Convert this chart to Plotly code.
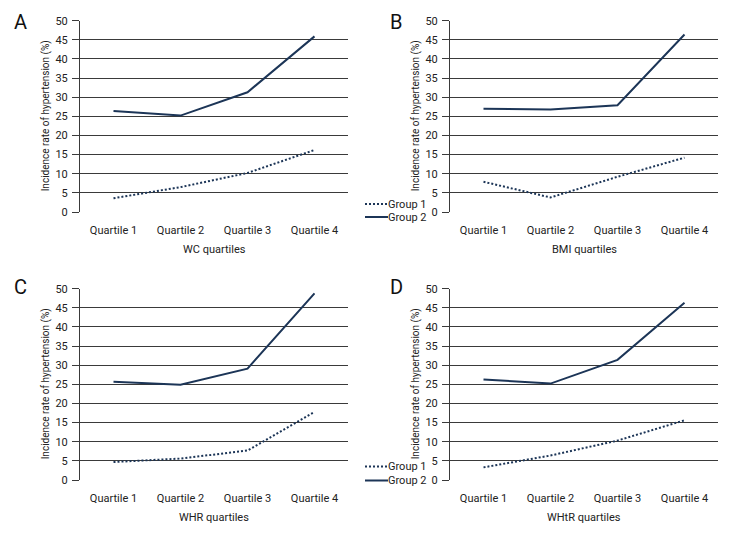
import plotly.graph_objects as go

categories = ["Quartile 1", "Quartile 2", "Quartile 3", "Quartile 4"]
panel_letters = ["A", "B", "C", "D"]
x_titles = ["WC quartiles", "BMI quartiles", "WHR quartiles", "WHtR quartiles"]
y_title = "Incidence rate of hypertension (%)"

wc_group1 = [3.6, 6.5, 10.2, 16.2]
wc_group2 = [26.4, 25.2, 31.3, 45.9]
bmi_group1 = [7.9, 3.8, 9.2, 14.2]
bmi_group2 = [27.0, 26.8, 27.9, 46.4]
whr_group1 = [4.7, 5.6, 7.7, 17.8]
whr_group2 = [25.7, 24.9, 29.1, 48.8]
whtr_group1 = [3.3, 6.4, 10.3, 15.6]
whtr_group2 = [26.3, 25.2, 31.4, 46.3]

group1_series = [wc_group1, bmi_group1, whr_group1, whtr_group1]
group2_series = [wc_group2, bmi_group2, whr_group2, whtr_group2]

FONT = "Roboto, Liberation Sans, sans-serif"
FS = 11
LINE_COLOR = "#1c3557"
GRID_COLOR = "#3a3a3a"
TEXT_COLOR = "#222"
# page body has an 8px margin; keep the figure inside the 756x540 window
OFF = 8
W, H = 756 - 2 * OFF, 540 - 2 * OFF


def px(x):
    return (x - OFF) / W


def py(y):
    return 1 - (y - OFF) / H


x_domains = [[px(80), px(348)], [px(450), px(718)]]
y_domains = [[py(212), py(20.7)], [py(480), py(288.7)]]

fig = go.Figure()
annotations = []
shapes = []

for i in range(4):
    row, col = divmod(i, 2)
    xa = "x" if i == 0 else f"x{i+1}"
    ya = "y" if i == 0 else f"y{i+1}"
    fig.add_trace(go.Scatter(
        x=categories, y=group1_series[i], mode="lines", xaxis=xa, yaxis=ya,
        line=dict(color=LINE_COLOR, width=2, dash="2px,2px"),
        name="Group 1", showlegend=False))
    fig.add_trace(go.Scatter(
        x=categories, y=group2_series[i], mode="lines", xaxis=xa, yaxis=ya,
        line=dict(color=LINE_COLOR, width=2),
        name="Group 2", showlegend=False))
    xkey = "xaxis" if i == 0 else f"xaxis{i+1}"
    ykey = "yaxis" if i == 0 else f"yaxis{i+1}"
    fig.update_layout(**{
        xkey: dict(domain=x_domains[col], anchor=ya, type="category",
                   range=[-0.5, 3.5], showgrid=False, zeroline=False,
                   showline=False, ticks="", ticklabelstandoff=10,
                   automargin=False,
                   tickfont=dict(family=FONT, size=FS, color=TEXT_COLOR)),
        ykey: dict(domain=y_domains[row], anchor=xa, range=[0, 50], dtick=5,
                   showgrid=True, gridcolor=GRID_COLOR, gridwidth=1,
                   zeroline=False, showline=True, linecolor=GRID_COLOR,
                   linewidth=1, ticks="outside", ticklen=7,
                   tickcolor=GRID_COLOR, ticklabelstandoff=2,
                   automargin=False,
                   tickfont=dict(family=FONT, size=FS, color=TEXT_COLOR)),
    })
    xd = x_domains[col]
    yd = y_domains[row]
    annotations.append(dict(text=x_titles[i], x=(xd[0] + xd[1]) / 2,
                            y=yd[0] - 38 / H, xref="paper", yref="paper",
                            xanchor="center", yanchor="middle",
                            showarrow=False,
                            font=dict(family=FONT, size=FS, color=TEXT_COLOR)))
    annotations.append(dict(text=y_title, x=xd[0] - 34 / W,
                            y=(yd[0] + yd[1]) / 2, xref="paper", yref="paper",
                            xanchor="center", yanchor="middle",
                            textangle=-90, showarrow=False,
                            font=dict(family=FONT, size=10, color=TEXT_COLOR)))

letter_pos = [(20, 22), (396, 22), (20, 287), (396, 287)]
for i, (lx, ly) in enumerate(letter_pos):
    annotations.append(dict(text=panel_letters[i], x=px(lx), y=py(ly),
                            xref="paper", yref="paper", showarrow=False,
                            xanchor="center", yanchor="middle",
                            font=dict(family=FONT, size=20, color="#111")))

for ys in [(204, 217), (466.5, 480.5)]:
    for k, (dash, label) in enumerate([("2px,2px", "Group 1"), ("solid", "Group 2")]):
        yy = py(ys[k])
        shapes.append(dict(type="line", xref="paper", yref="paper",
                           x0=px(365), x1=px(388), y0=yy, y1=yy,
                           line=dict(color=LINE_COLOR, width=2, dash=dash)))
        annotations.append(dict(text=label, x=px(386), y=yy, xref="paper",
                                yref="paper", xanchor="left", yanchor="middle",
                                showarrow=False,
                                font=dict(family=FONT, size=FS, color=TEXT_COLOR)))

fig.update_layout(width=W, height=H, margin=dict(l=0, r=0, t=0, b=0),
                  paper_bgcolor="white", plot_bgcolor="white",
                  shapes=shapes, annotations=annotations, showlegend=False,
                  font=dict(family=FONT))

fig.write_html("out.html")
